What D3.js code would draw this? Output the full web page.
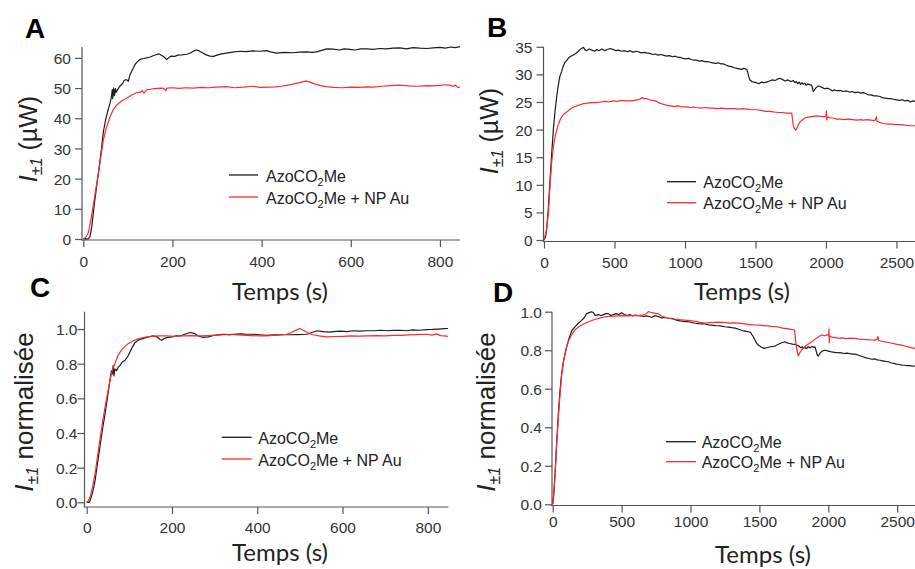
<!DOCTYPE html>
<html><head><meta charset="utf-8">
<script src="https://cdn.jsdelivr.net/npm/d3@7"></script>
<style>body{margin:0;background:#fff}svg{display:block}</style>
</head><body>
<script>
// ---------- DATA ----------
const seriesNames = ["AzoCO2Me", "AzoCO2Me + NP Au"];
const xTicksShort = [0, 200, 400, 600, 800];
const xTicksLong = [0, 500, 1000, 1500, 2000, 2500];
const yTicksA = [0, 10, 20, 30, 40, 50, 60];
const yTicksB = [0, 5, 10, 15, 20, 25, 30, 35];
const yTicksNorm = [0, 0.2, 0.4, 0.6, 0.8, 1.0];

const aBlack = [[0,0],[5,0.1],[11,0],[15,0.8],[19,4],[22,8],[26,13],[30,17.5],[34,22],[40,29],[45,35.5],[50,39.5],[56,43],[60,45],[63,47],[65,49.5],[66,46.5],[68,50],[70,47.5],[72,49.8],[74,48.6],[77,49.5],[82,50.6],[88,51.5],[92,52.6],[97,52.8],[101,52.2],[105,54.5],[110,56],[116,57.8],[120,58.5],[127,59.5],[135,59.8],[142,60],[150,60.3],[158,60.8],[165,61.1],[170,61.3],[176,60.8],[182,60.2],[187,59.4],[192,60.1],[197,60.6],[205,60.5],[212,60.9],[220,61],[232,61.2],[240,61.6],[248,62.3],[254,62.6],[260,62.3],[268,61.6],[276,61],[284,60.6],[292,60.5],[300,60.9],[310,61.3],[321,61.6],[335,61.9],[351,62.2],[365,62.1],[380,62.3],[395,62.2],[411,62.4],[420,62],[434,61.6],[450,61.8],[470,61.7],[486,61.9],[500,62],[515,61.8],[523,62],[535,62.5],[546,63],[560,62.9],[575,62.6],[585,63],[598,62.8],[610,62.6],[622,63],[635,63],[650,62.8],[665,63.1],[680,63],[695,63.2],[710,63.3],[725,63],[740,63.4],[755,63.2],[770,63.1],[785,63.3],[800,63.5],[812,63.2],[825,63.6],[835,63.4],[845,63.7]];
const aRed = [[0,0],[5,0.5],[11,1.9],[16,5.5],[22,10.7],[28,16.5],[34,21.8],[40,28],[45,32.8],[52,37],[60,40.5],[67,42.8],[75,44.4],[85,45.6],[97,46.6],[108,47.6],[120,48.5],[128,48.6],[132,49.2],[136,48.3],[142,49.4],[150,49.6],[160,49.8],[172,50],[180,49.9],[185,49.1],[188,50],[200,50.1],[215,49.9],[230,50.1],[247,50],[265,50.2],[280,50.1],[300,50.3],[321,50.5],[340,50.1],[360,50.3],[380,50.6],[396,50.2],[415,50.3],[430,50.4],[445,50.6],[456,50.9],[470,51.3],[485,51.8],[495,52.2],[501,52.3],[510,51.9],[520,51.3],[531,50.9],[545,50.5],[561,50.2],[580,50.1],[600,50.3],[620,50.2],[635,50.4],[650,50.3],[670,50.6],[690,50.8],[710,51],[730,50.7],[750,50.6],[770,50.8],[785,50.7],[800,50.9],[810,51.1],[823,51],[830,50.5],[835,51],[840,50.2],[845,50.3]];

const bBlack = [[0,0],[10,0.5],[19,1.8],[30,5.5],[43,10.9],[55,15.8],[66,19.9],[78,23.3],[90,25.9],[100,27.8],[112,29.6],[125,30.5],[135,31.4],[148,32.2],[161,32.5],[175,33],[190,33.3],[208,33.5],[225,33.8],[240,34.1],[255,34.5],[267,34.7],[280,34.9],[290,34.5],[300,34.3],[320,34.6],[340,34.4],[360,34.2],[374,34.5],[390,34.3],[410,34.6],[430,34.3],[450,34.5],[470,34.7],[492,34.5],[510,34.3],[530,34.4],[550,34.2],[570,34.3],[590,34.1],[610,34.3],[630,34],[650,34.2],[670,34.1],[690,33.9],[710,34],[728,33.9],[750,33.8],[770,33.6],[790,33.7],[810,33.5],[830,33.6],[846,33.5],[870,33.3],[890,33.4],[910,33.2],[930,33.3],[950,33.1],[965,33.1],[985,32.9],[1005,32.8],[1025,32.9],[1045,32.7],[1065,32.6],[1083,32.6],[1100,32.4],[1120,32.5],[1140,32.3],[1160,32.3],[1177,32.2],[1195,32.1],[1215,32],[1235,32.1],[1255,31.9],[1272,31.9],[1290,31.7],[1310,31.5],[1330,31.4],[1350,31.2],[1367,31.1],[1385,31],[1400,30.9],[1420,31.1],[1438,30.9],[1445,30.4],[1452,29.6],[1461,29],[1475,28.7],[1490,28.6],[1508,28.5],[1525,28.3],[1540,28.6],[1560,28.5],[1579,28.6],[1600,28.8],[1620,29],[1640,28.9],[1660,29.2],[1674,29.3],[1690,29.1],[1710,28.8],[1730,29],[1750,28.7],[1768,28.9],[1780,28.5],[1790,28.7],[1800,28.3],[1810,28.6],[1820,28.2],[1830,28.5],[1839,28.2],[1850,28.4],[1860,28],[1870,28.3],[1885,28.1],[1898,28.1],[1905,27.4],[1910,26.9],[1918,27.2],[1930,27.6],[1945,27.9],[1957,27.8],[1975,27.6],[1990,27.4],[2010,27.5],[2028,27.3],[2045,27],[2060,27.2],[2080,27],[2100,27.1],[2120,26.9],[2147,27],[2165,26.8],[2185,26.9],[2205,26.7],[2225,26.8],[2245,26.6],[2265,26.7],[2285,26.5],[2300,26.3],[2320,26.3],[2340,26.1],[2360,26.1],[2383,26],[2400,25.8],[2420,25.7],[2440,25.6],[2460,25.6],[2480,25.5],[2501,25.4],[2520,25.3],[2540,25.4],[2560,25.2],[2580,25.3],[2600,25],[2615,25.2],[2631,25.1]];
const bRed = [[0,0],[15,1.5],[31,4.8],[42,9.5],[54,13.9],[66,16.8],[78,18.7],[95,20.4],[113,21.7],[130,22.5],[145,22.9],[161,23.2],[185,23.7],[210,24.1],[235,24.3],[255,24.5],[280,24.7],[310,24.8],[340,24.9],[374,24.9],[400,25],[430,25.1],[460,25],[492,25.2],[520,25.1],[550,25.3],[580,25.2],[610,25.2],[640,25.3],[660,25.4],[680,25.5],[695,25.8],[704,25.7],[715,25.6],[730,25.6],[750,25.4],[770,25.3],[799,25.1],[820,24.8],[845,24.6],[870,24.4],[894,24.3],[920,24.2],[950,24.3],[980,24.1],[1010,24.1],[1040,24],[1060,24.1],[1083,24],[1110,23.9],[1140,24],[1170,23.9],[1200,23.9],[1230,23.8],[1260,23.9],[1290,23.8],[1319,23.8],[1350,23.8],[1380,23.7],[1410,23.8],[1440,23.7],[1470,23.6],[1508,23.6],[1540,23.5],[1570,23.3],[1600,23.3],[1626,23.2],[1660,23.1],[1690,23.1],[1720,23],[1745,23],[1757,23],[1762,22],[1768,20.8],[1775,20.3],[1785,19.9],[1795,20.3],[1805,20.9],[1816,21.4],[1835,21.8],[1850,22.1],[1863,22.2],[1885,22.3],[1910,22.4],[1934,22.5],[1960,22.4],[1985,22.3],[2000,22.5],[2003,23.4],[2006,21.7],[2009,22.3],[2030,22.1],[2050,22.1],[2076,21.9],[2100,21.9],[2130,21.8],[2160,21.9],[2190,21.8],[2220,21.7],[2250,21.8],[2265,21.7],[2290,21.8],[2320,21.7],[2345,21.6],[2358,22.3],[2362,21.5],[2380,21.3],[2406,21.1],[2440,21],[2470,21],[2500,20.9],[2530,20.9],[2560,20.8],[2600,20.7],[2631,20.7]];

const cBlack = [[0,0],[5,0],[8,0.01],[12,0.04],[16,0.08],[20,0.13],[25,0.22],[31,0.32],[37,0.42],[43,0.51],[49,0.61],[55,0.71],[58,0.76],[60,0.74],[62,0.79],[64,0.73],[66,0.77],[70,0.76],[74,0.78],[78,0.79],[84,0.81],[90,0.82],[96,0.84],[102,0.87],[108,0.9],[113,0.92],[120,0.935],[133,0.946],[145,0.955],[156,0.96],[165,0.955],[172,0.94],[176,0.935],[182,0.945],[188,0.95],[200,0.955],[210,0.96],[219,0.96],[230,0.97],[243,0.98],[252,0.975],[262,0.96],[273,0.952],[285,0.955],[295,0.962],[305,0.965],[320,0.97],[335,0.968],[344,0.97],[360,0.972],[375,0.97],[390,0.97],[405,0.967],[422,0.963],[440,0.966],[460,0.967],[477,0.967],[495,0.968],[516,0.97],[528,0.98],[540,0.99],[555,0.985],[570,0.982],[578,0.985],[595,0.988],[610,0.985],[625,0.99],[640,0.988],[657,0.99],[675,0.99],[690,0.993],[705,0.99],[720,0.992],[735,0.993],[750,0.99],[765,0.995],[780,0.993],[797,0.997],[810,0.998],[825,1.0],[838,1.002],[848,1.003]];
const cRed = [[0,0],[4,0.01],[8,0.03],[14,0.09],[20,0.17],[25,0.26],[31,0.36],[37,0.46],[43,0.55],[49,0.63],[55,0.71],[60,0.76],[66,0.8],[74,0.85],[82,0.88],[90,0.9],[98,0.917],[108,0.93],[117,0.94],[128,0.948],[141,0.955],[155,0.958],[170,0.96],[188,0.96],[205,0.958],[225,0.96],[245,0.962],[266,0.96],[285,0.962],[305,0.965],[325,0.967],[344,0.967],[365,0.965],[385,0.962],[405,0.96],[422,0.96],[440,0.964],[455,0.966],[469,0.97],[480,0.98],[490,0.992],[500,1.003],[510,0.99],[520,0.975],[531,0.967],[545,0.96],[563,0.955],[580,0.957],[600,0.958],[620,0.96],[640,0.959],[657,0.96],[680,0.962],[700,0.961],[720,0.963],[735,0.963],[755,0.966],[775,0.968],[797,0.97],[810,0.965],[820,0.972],[830,0.962],[838,0.96],[848,0.958]];

const dBlack = [[0,0],[8,0.05],[17,0.16],[28,0.31],[41,0.47],[53,0.59],[65,0.68],[80,0.75],[102,0.82],[120,0.865],[138,0.9],[160,0.92],[186,0.94],[210,0.955],[230,0.97],[247,0.99],[265,0.995],[283,1.0],[295,0.995],[310,0.98],[331,0.985],[350,0.98],[370,0.985],[385,0.99],[403,0.99],[420,0.98],[440,0.985],[460,0.99],[480,0.985],[500,0.995],[520,0.985],[540,0.98],[560,0.985],[580,0.978],[600,0.982],[621,0.98],[640,0.978],[660,0.975],[680,0.978],[700,0.975],[720,0.97],[742,0.98],[765,0.975],[790,0.968],[815,0.97],[840,0.966],[863,0.966],[885,0.96],[905,0.955],[925,0.952],[950,0.95],[984,0.948],[1010,0.944],[1035,0.94],[1060,0.938],[1085,0.937],[1105,0.936],[1130,0.932],[1155,0.93],[1180,0.928],[1205,0.927],[1226,0.925],[1250,0.922],[1275,0.92],[1300,0.917],[1323,0.915],[1345,0.91],[1365,0.905],[1385,0.9],[1405,0.898],[1419,0.896],[1435,0.893],[1446,0.88],[1456,0.87],[1470,0.85],[1480,0.836],[1492,0.827],[1510,0.818],[1525,0.812],[1541,0.81],[1560,0.814],[1580,0.818],[1600,0.82],[1613,0.822],[1630,0.828],[1650,0.835],[1668,0.84],[1686,0.844],[1700,0.838],[1720,0.835],[1740,0.832],[1758,0.83],[1775,0.826],[1790,0.82],[1800,0.812],[1810,0.818],[1820,0.81],[1831,0.815],[1842,0.808],[1855,0.818],[1868,0.812],[1880,0.82],[1893,0.815],[1903,0.818],[1912,0.795],[1920,0.775],[1927,0.77],[1940,0.785],[1955,0.795],[1976,0.8],[1995,0.797],[2015,0.793],[2035,0.79],[2055,0.788],[2073,0.788],[2095,0.786],[2115,0.783],[2135,0.785],[2155,0.782],[2175,0.78],[2194,0.78],[2215,0.775],[2235,0.77],[2255,0.765],[2275,0.76],[2295,0.757],[2315,0.753],[2335,0.755],[2355,0.75],[2375,0.748],[2395,0.745],[2415,0.742],[2436,0.74],[2455,0.735],[2475,0.732],[2495,0.728],[2515,0.726],[2533,0.723],[2550,0.722],[2570,0.72],[2590,0.72],[2610,0.717],[2629,0.718]];
const dRed = [[0,0],[8,0.06],[17,0.15],[28,0.3],[41,0.45],[53,0.57],[65,0.67],[80,0.75],[102,0.82],[120,0.857],[138,0.88],[160,0.905],[186,0.92],[220,0.935],[259,0.948],[300,0.958],[340,0.967],[380,0.974],[420,0.975],[460,0.978],[500,0.98],[540,0.978],[580,0.98],[621,0.98],[650,0.982],[670,0.985],[685,0.995],[694,1.0],[710,0.997],[730,0.994],[750,0.99],[766,0.99],[785,0.98],[800,0.975],[820,0.97],[839,0.966],[870,0.962],[900,0.96],[930,0.958],[960,0.956],[984,0.955],[1010,0.952],[1040,0.95],[1070,0.945],[1105,0.941],[1135,0.943],[1165,0.944],[1195,0.946],[1226,0.945],[1255,0.943],[1285,0.941],[1315,0.942],[1347,0.941],[1380,0.938],[1410,0.935],[1440,0.933],[1468,0.931],[1500,0.93],[1530,0.928],[1560,0.926],[1590,0.924],[1613,0.923],[1640,0.92],[1670,0.915],[1700,0.912],[1730,0.908],[1755,0.905],[1760,0.87],[1766,0.83],[1771,0.81],[1777,0.785],[1783,0.77],[1792,0.785],[1805,0.8],[1819,0.81],[1840,0.825],[1860,0.835],[1880,0.844],[1900,0.855],[1920,0.865],[1935,0.872],[1952,0.879],[1970,0.875],[1990,0.88],[2003,0.877],[2005,0.91],[2007,0.838],[2009,0.875],[2025,0.868],[2050,0.865],[2073,0.862],[2100,0.864],[2130,0.86],[2160,0.863],[2194,0.862],[2220,0.858],[2250,0.856],[2280,0.855],[2315,0.853],[2340,0.852],[2355,0.86],[2360,0.872],[2365,0.852],[2380,0.848],[2410,0.843],[2436,0.84],[2470,0.835],[2500,0.83],[2530,0.826],[2557,0.822],[2590,0.815],[2629,0.81]];

// ---------- LAYOUT ----------
const W = 915, H = 569;
const BLACK = "#1c1c1c", RED = "#ff2a2a", AXIS = "#555", TXT = "#333";
const svg = d3.select("body").append("svg").attr("width", W).attr("height", H);
const defs = svg.append("defs");

const panels = [
  { id:"A", letter:[25,38], xDom:[0,845], xR:[83.3,460], yDom:[0,63.6], yR:[239,47],
    xAxisY:240, yAxisX:82, xTicks:xTicksShort, yTicks:yTicksA, yFmt:d3.format("d"),
    xLabBase:266.7, yLabGap:11, black:aBlack, red:aRed,
    yTitle:{x:37, y:139, unit:" (µW)", size:25}, xTitle:{x:280, y:300},
    legend:{x1:229, x2:258, y1:175, y2:197, tx:266} },
  { id:"B", letter:[487,37], xDom:[0,2640], xR:[544,916.2], yDom:[0,35], yR:[240,46.8],
    xAxisY:241.5, yAxisX:543.5, xTicks:xTicksLong, yTicks:yTicksB, yFmt:d3.format("d"),
    xLabBase:268.3, yLabGap:11, black:bBlack, red:bRed,
    yTitle:{x:498, y:131, unit:" (µW)", size:25}, xTitle:{x:742, y:299.5},
    legend:{x1:667, x2:696, y1:181.7, y2:202.7, tx:703.3} },
  { id:"C", letter:[30,297], xDom:[0,848], xR:[86.7,448.3], yDom:[0,1.1], yR:[502.3,311.7],
    xAxisY:507, yAxisX:84.5, xTicks:xTicksShort, yTicks:yTicksNorm, yFmt:d3.format(".1f"),
    xLabBase:533.3, yLabGap:7, black:cBlack, red:cRed,
    yTitle:{x:33, y:412, unit:" normalisée", size:26}, xTitle:{x:280, y:561},
    legend:{x1:221.7, x2:251.7, y1:437.3, y2:459, tx:258.3} },
  { id:"D", letter:[493,302], xDom:[0,2640], xR:[552.7,916.5], yDom:[0,1.0], yR:[504.3,311.7],
    xAxisY:505.5, yAxisX:552, xTicks:xTicksLong, yTicks:yTicksNorm, yFmt:d3.format(".1f"),
    xLabBase:526.7, yLabGap:10, black:dBlack, red:dRed,
    yTitle:{x:495, y:412, unit:" normalisée", size:26}, xTitle:{x:763, y:562.5},
    legend:{x1:666, x2:696, y1:441.7, y2:461.7, tx:701.7} }
];

panels.forEach(p => {
  const g = svg.append("g");
  const x = d3.scaleLinear().domain(p.xDom).range(p.xR);
  const y = d3.scaleLinear().domain(p.yDom).range(p.yR);
  const topY = Math.min(...p.yR);
  const rightX = Math.max(...p.xR);

  defs.append("clipPath").attr("id","clip"+p.id).append("rect")
    .attr("x", p.yAxisX).attr("y", topY - 10).attr("width", rightX - p.yAxisX).attr("height", p.xAxisY - topY + 10);

  const xa = g.append("g").attr("transform", `translate(0,${p.xAxisY})`)
    .call(d3.axisBottom(x).tickValues(p.xTicks).tickSize(7).tickSizeOuter(0).tickFormat(d3.format("d")));
  xa.select(".domain").remove();
  xa.selectAll("line").attr("stroke", AXIS).attr("stroke-width", 1.2);
  xa.selectAll("text").attr("y", null).attr("dy", null)
    .attr("transform", `translate(0,${p.xLabBase - p.xAxisY})`)
    .attr("fill", TXT).style("font", "15.5px 'Liberation Sans', Arial, sans-serif");

  const ya = g.append("g").attr("transform", `translate(${p.yAxisX},0)`)
    .call(d3.axisLeft(y).tickValues(p.yTicks).tickSize(7).tickSizeOuter(0).tickFormat(p.yFmt));
  ya.select(".domain").remove();
  ya.selectAll("line").attr("stroke", AXIS).attr("stroke-width", 1.2);
  ya.selectAll("text").attr("x", -p.yLabGap).attr("dy", "0.36em")
    .attr("fill", TXT).style("font", "15.5px 'Liberation Sans', Arial, sans-serif");

  g.append("line").attr("x1", p.yAxisX).attr("x2", p.yAxisX).attr("y1", topY).attr("y2", p.xAxisY + 0.6)
    .attr("stroke", AXIS).attr("stroke-width", 1.2);
  g.append("line").attr("x1", p.yAxisX - 0.6).attr("x2", rightX).attr("y1", p.xAxisY).attr("y2", p.xAxisY)
    .attr("stroke", AXIS).attr("stroke-width", 1.2);

  const line = d3.line().x(d => x(d[0])).y(d => y(d[1]));
  const dg = g.append("g").attr("clip-path", `url(#clip${p.id})`);
  dg.append("path").datum(p.black).attr("d", line).attr("fill","none").attr("stroke", BLACK).attr("stroke-width", 1.2).attr("stroke-linejoin","round");
  dg.append("path").datum(p.red).attr("d", line).attr("fill","none").attr("stroke", RED).attr("stroke-width", 1.2).attr("stroke-linejoin","round");

  const L = p.legend;
  [[L.y1, BLACK, 0], [L.y2, RED, 1]].forEach(([ly, col, i]) => {
    g.append("line").attr("x1", L.x1).attr("x2", L.x2).attr("y1", ly).attr("y2", ly).attr("stroke", col).attr("stroke-width", 1.3);
    const t = g.append("text").attr("x", L.tx).attr("y", ly + 6.5).attr("fill", "#222")
      .style("font", "16px 'Liberation Sans', Arial, sans-serif");
    const name = seriesNames[i];
    t.append("tspan").text(name.slice(0, 5));
    t.append("tspan").attr("dy", 4).style("font-size", "11px").text(name.slice(5, 6));
    t.append("tspan").attr("dy", -4).text(name.slice(6));
  });

  const yt = g.append("text").attr("transform", `translate(${p.yTitle.x},${p.yTitle.y}) rotate(-90)`)
    .attr("text-anchor", "middle").attr("fill", "#222")
    .style("font", `${p.yTitle.size}px 'Liberation Sans', Arial, sans-serif`);
  yt.append("tspan").style("font-style", "italic").text("I");
  yt.append("tspan").attr("dy", 5).style("font-style", "italic").style("font-size", "16px").text("±1");
  yt.append("tspan").attr("dy", -5).text(p.yTitle.unit);

  g.append("text").attr("x", p.xTitle.x).attr("y", p.xTitle.y).attr("text-anchor", "middle").attr("fill", "#222")
    .style("font", "24px Lato, 'Open Sans', sans-serif").text("Temps (s)");

  g.append("text").attr("x", p.letter[0]).attr("y", p.letter[1]).attr("fill", "#000")
    .style("font", "bold 28px 'Liberation Sans', Arial, sans-serif").text(p.id);
});
</script>
</body></html>
